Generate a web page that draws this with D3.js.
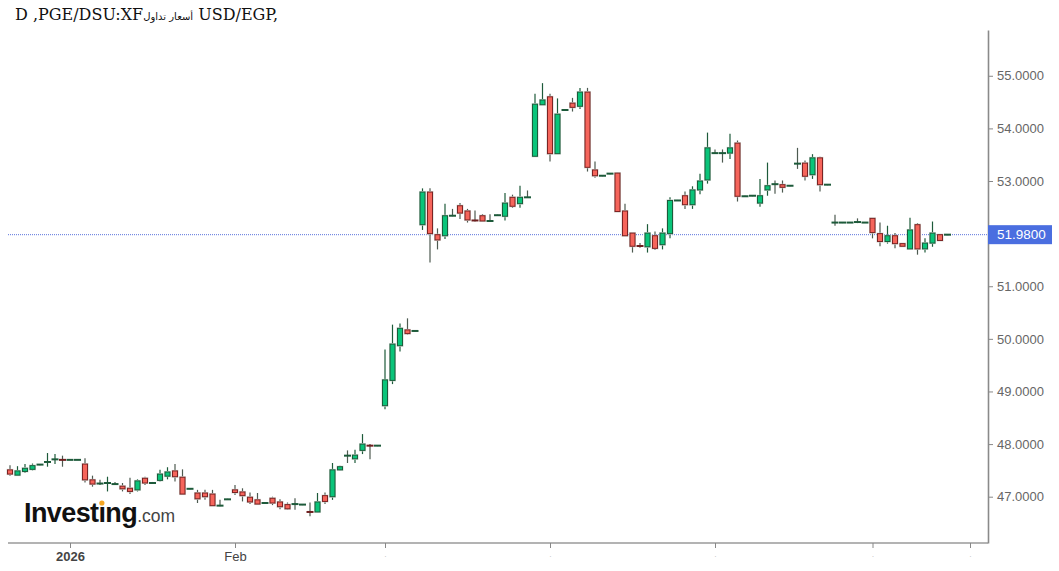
<!DOCTYPE html>
<html>
<head>
<meta charset="utf-8">
<script src="https://cdn.jsdelivr.net/npm/d3@7"></script>
<style>
  body { margin: 0; background: #fff; }
  svg { display: block; }
</style>
</head>
<body>
<div class="chart"></div>
<script>
// candles, one per trading day from 2025-12-22
const opens  = [47.51,47.41,47.48,47.52,47.61,47.64,47.70,47.71,47.70,47.70,
                47.62,47.32,47.25,47.25,47.24,47.20,47.16,47.13,47.35,47.26,
                47.31,47.39,47.49,47.37,47.15,47.07,47.07,47.05,46.83,46.95,
                47.13,47.09,46.99,46.94,46.88,46.97,46.90,46.85,46.86,46.85,
                46.72,46.71,47.02,47.00,47.51,47.78,47.72,47.88,47.98,47.97,
                48.73,49.21,49.87,50.17,50.15,52.17,52.79,51.98,51.96,52.34,
                52.53,52.43,52.26,52.34,52.24,52.35,52.33,52.69,52.57,52.69,
                53.47,54.45,54.60,53.52,54.35,54.48,54.42,54.69,53.21,53.10,
                53.14,53.15,52.43,52.01,51.77,51.75,51.96,51.79,52.00,52.63,
                52.72,52.55,52.83,53.02,53.53,53.53,53.53,53.72,52.71,52.72,
                52.58,52.83,52.94,52.93,52.91,53.33,53.34,53.12,53.44,52.93,
                52.21,52.21,52.21,52.22,52.21,52.29,52.00,51.85,51.96,51.81,
                51.71,52.17,51.71,51.82,51.98,51.98]
const highs  = [47.60,47.58,47.62,47.63,47.62,47.83,47.81,47.78,47.70,47.70,
                47.73,47.40,47.32,47.38,47.28,47.26,47.36,47.33,47.38,47.28,
                47.51,47.56,47.62,47.52,47.16,47.13,47.13,47.13,46.94,46.96,
                47.22,47.16,47.08,47.07,46.89,47.00,46.95,46.89,46.97,46.86,
                46.89,47.07,47.08,47.64,47.59,47.88,47.89,48.19,48.00,47.98,
                49.80,50.27,50.29,50.39,50.16,52.86,52.86,52.10,52.57,52.47,
                52.58,52.47,52.44,52.37,52.37,52.36,52.77,52.74,52.91,52.82,
                54.66,54.86,54.66,54.57,54.36,54.58,54.77,54.77,53.37,53.11,
                53.15,53.16,52.57,52.01,51.82,52.18,52.04,52.10,52.69,52.64,
                52.80,52.90,53.14,53.92,53.60,53.60,53.90,53.77,52.72,52.73,
                53.04,53.35,53.01,53.01,52.92,53.63,53.39,53.51,53.46,52.94,
                52.36,52.22,52.22,52.29,52.22,52.29,52.21,52.15,52.01,51.82,
                52.30,52.20,51.91,52.23,51.99,51.99]
const lows   = [47.40,47.40,47.45,47.50,47.60,47.57,47.62,47.57,47.70,47.70,
                47.27,47.19,47.22,47.10,47.22,47.10,47.05,47.10,47.22,47.25,
                47.29,47.33,47.29,47.04,47.14,46.88,46.94,46.83,46.82,46.94,
                47.03,46.91,46.86,46.85,46.87,46.84,46.76,46.75,46.75,46.84,
                46.63,46.70,46.86,46.94,47.50,47.64,47.64,47.81,47.71,47.96,
                48.66,49.14,49.76,50.08,50.14,52.07,51.45,51.70,51.90,52.33,
                52.28,52.21,52.23,52.23,52.23,52.34,52.25,52.49,52.49,52.68,
                53.47,54.45,53.37,53.52,54.34,54.32,54.37,53.18,53.06,53.09,
                53.13,52.42,51.96,51.64,51.73,51.64,51.69,51.70,51.91,52.62,
                52.47,52.47,52.75,52.95,53.52,53.35,53.42,52.61,52.70,52.71,
                52.51,52.72,52.76,52.78,52.90,53.23,53.01,53.04,52.80,52.92,
                52.15,52.20,52.20,52.20,52.20,51.91,51.76,51.81,51.72,51.75,
                51.71,51.60,51.64,51.75,51.86,51.97]
const closes = [47.43,47.49,47.54,47.59,47.61,47.68,47.72,47.69,47.70,47.70,
                47.32,47.24,47.25,47.27,47.24,47.15,47.10,47.30,47.26,47.26,
                47.43,47.47,47.38,47.05,47.15,46.96,47.00,46.83,46.83,46.95,
                47.08,47.02,46.90,46.86,46.88,46.88,46.81,46.77,46.86,46.85,
                46.70,46.90,46.91,47.51,47.57,47.78,47.79,48.00,47.96,47.97,
                49.22,49.90,50.20,50.10,50.15,52.79,52.00,51.88,52.34,52.34,
                52.39,52.26,52.24,52.24,52.24,52.35,52.58,52.52,52.69,52.69,
                54.46,54.54,53.52,54.27,54.35,54.40,54.69,53.26,53.10,53.10,
                53.14,52.42,51.96,51.76,51.76,52.01,51.72,52.01,52.63,52.63,
                52.55,52.83,53.00,53.63,53.53,53.53,53.63,52.71,52.71,52.72,
                52.72,52.91,52.94,52.88,52.91,53.33,53.09,53.44,52.93,52.93,
                52.21,52.21,52.21,52.22,52.21,52.02,51.85,51.96,51.81,51.76,
                52.07,51.71,51.82,52.01,51.87,51.98]

const lastPrice = 51.98
const priceTicks = [47, 48, 49, 50, 51, 52, 53, 54, 55]
const dateTicks = ['2026-01-01', '2026-02-02', '2026-03-02', '2026-04-01', '2026-05-01', '2026-06-01', '2026-06-18']
const dateTickLabels = ['2026', 'Feb', '.', '.', '.', '.', '.']

const width = 1059, height = 571
const plot = { left: 8, right: 988, top: 30, bottom: 543 }

// trading days (Mon-Fri), a few extra after the last candle for the axis
const fmt = d3.utcFormat('%Y-%m-%d')
const days = d3.utcDays(new Date(Date.UTC(2025, 11, 22)), new Date(Date.UTC(2026, 5, 24)))
  .filter(d => d.getUTCDay() % 6 !== 0)
  .map(fmt)

const data = opens.map((o, i) => ({
  date: days[i], open: o, high: highs[i], low: lows[i], close: closes[i]
}))

const svg = d3.select('.chart')
  .append('svg')
  .attr('width', width)
  .attr('height', height)

const step = 7.5
const x = d3.scalePoint()
  .domain(days)
  .range([10, 10 + (days.length - 1) * step])

const y = d3.scaleLinear()
  .domain([46.12, 55.87])
  .range([plot.bottom, plot.top])

// title (rendered as it shows in the picture)
const title = svg.append('text')
  .attr('x', 15)
  .attr('y', 20)
  .attr('font-family', 'DejaVu Serif')
  .attr('font-size', 16)
  .attr('fill', '#111')
title.append('tspan').text('D ,PGE/DSU:XF')
title.append('tspan')
  .attr('font-size', 10)
  .attr('font-family', 'DejaVu Sans')
  .text('\u2066أسعار تداول\u2069')
title.append('tspan').text(' USD/EGP,')

// logo
const logo = svg.append('text')
  .attr('x', 24)
  .attr('y', 522)
  .attr('font-family', 'Liberation Sans, Arial, sans-serif')
logo.append('tspan')
  .attr('font-size', 27)
  .attr('font-weight', 'bold')
  .attr('letter-spacing', -0.6)
  .attr('fill', '#111')
  .text('Investıng')
logo.append('tspan')
  .attr('font-size', 17.5)
  .attr('fill', '#444')
  .text('.com')
const dotBox = logo.node().getExtentOfChar(6)
svg.append('circle')
  .attr('cx', dotBox.x + dotBox.width / 2)
  .attr('cy', 503)
  .attr('r', 2.6)
  .attr('fill', '#f5a623')

// last price dotted line
svg.append('line')
  .attr('x1', plot.left)
  .attr('x2', plot.right)
  .attr('y1', y(lastPrice))
  .attr('y2', y(lastPrice))
  .attr('stroke', '#5a72dc')
  .attr('stroke-width', 1)
  .attr('stroke-dasharray', '1,1')

// candles
const up = d => d.close > d.open
const candles = svg.append('g')
  .selectAll('g')
  .data(data)
  .enter()
  .append('g')

candles.append('line')
  .attr('x1', d => x(d.date))
  .attr('x2', d => x(d.date))
  .attr('y1', d => y(d.high))
  .attr('y2', d => y(d.low))
  .attr('stroke', d => up(d) ? '#1d5a3a' : '#4d5a50')
  .attr('stroke-width', 1.2)

const bodies = candles.filter(d => Math.abs(y(d.open) - y(d.close)) >= 2.5)
const flats = candles.filter(d => Math.abs(y(d.open) - y(d.close)) < 2.5)

bodies.append('rect')
  .attr('x', d => x(d.date) - 3.5)
  .attr('width', 7)
  .attr('y', d => y(Math.max(d.open, d.close)) - 1)
  .attr('height', d => Math.abs(y(d.open) - y(d.close)) + 2)
  .attr('fill', '#cfd6d1')

bodies.append('rect')
  .attr('x', d => x(d.date) - 2.5)
  .attr('width', 5)
  .attr('y', d => y(Math.max(d.open, d.close)))
  .attr('height', d => Math.abs(y(d.open) - y(d.close)))
  .attr('fill', d => up(d) ? '#0ac47a' : '#f5655b')
  .attr('stroke', d => up(d) ? '#1b5c3a' : '#7c2222')
  .attr('stroke-width', 1)

flats.append('line')
  .attr('x1', d => x(d.date) - 3.5)
  .attr('x2', d => x(d.date) + 3.5)
  .attr('y1', d => y((d.open + d.close) / 2))
  .attr('y2', d => y((d.open + d.close) / 2))
  .attr('stroke', d => d.close < d.open ? '#6e1e1e' : '#1d5a3a')
  .attr('stroke-width', 2)

// bottom axis
const xAxis = d3.axisBottom(x)
  .tickValues(dateTicks)
  .tickFormat((d, i) => dateTickLabels[i])
  .tickSize(5)
  .tickSizeOuter(0)

const xAxisGroup = svg.append('g')
  .attr('transform', `translate(0, ${plot.bottom})`)
  .call(xAxis)
xAxisGroup.select('.domain').remove()
xAxisGroup.insert('line', ':first-child')
  .attr('x1', plot.left)
  .attr('x2', plot.right)
  .attr('stroke', '#9a9a9a')
  .attr('stroke-width', 1.6)
xAxisGroup.selectAll('.tick line').attr('stroke', '#888')
xAxisGroup.selectAll('.tick text')
  .attr('y', 9)
  .attr('font-family', 'Liberation Sans, Arial, sans-serif')
  .attr('font-size', d => dateTicks.indexOf(d) < 2 ? 13 : 7)
  .attr('font-weight', d => dateTicks.indexOf(d) === 0 ? 'bold' : 'normal')
  .attr('fill', d => dateTicks.indexOf(d) < 2 ? '#444' : '#aaa')

// right axis
const yAxis = d3.axisRight(y)
  .tickValues(priceTicks)
  .tickFormat(d3.format('.4f'))
  .tickSize(5)
  .tickSizeOuter(0)

const yAxisGroup = svg.append('g')
  .attr('transform', `translate(${plot.right}, 0)`)
  .call(yAxis)
yAxisGroup.select('.domain')
  .attr('stroke', '#8a8a8a')
  .attr('stroke-width', 1.6)
yAxisGroup.selectAll('.tick line').attr('stroke', '#888')
yAxisGroup.selectAll('.tick text')
  .attr('x', 9)
  .attr('font-family', 'Liberation Sans, Arial, sans-serif')
  .attr('font-size', 13)
  .attr('fill', '#666')

// last price tag
svg.append('rect')
  .attr('x', plot.right)
  .attr('y', y(lastPrice) - 9.5)
  .attr('width', 64)
  .attr('height', 19)
  .attr('fill', '#4a6ee0')
svg.append('text')
  .attr('x', plot.right + 9)
  .attr('y', y(lastPrice) + 4.5)
  .attr('font-family', 'Liberation Sans, Arial, sans-serif')
  .attr('font-size', 13.5)
  .attr('fill', '#fff')
  .text(d3.format('.4f')(lastPrice))
</script>
</body>
</html>
